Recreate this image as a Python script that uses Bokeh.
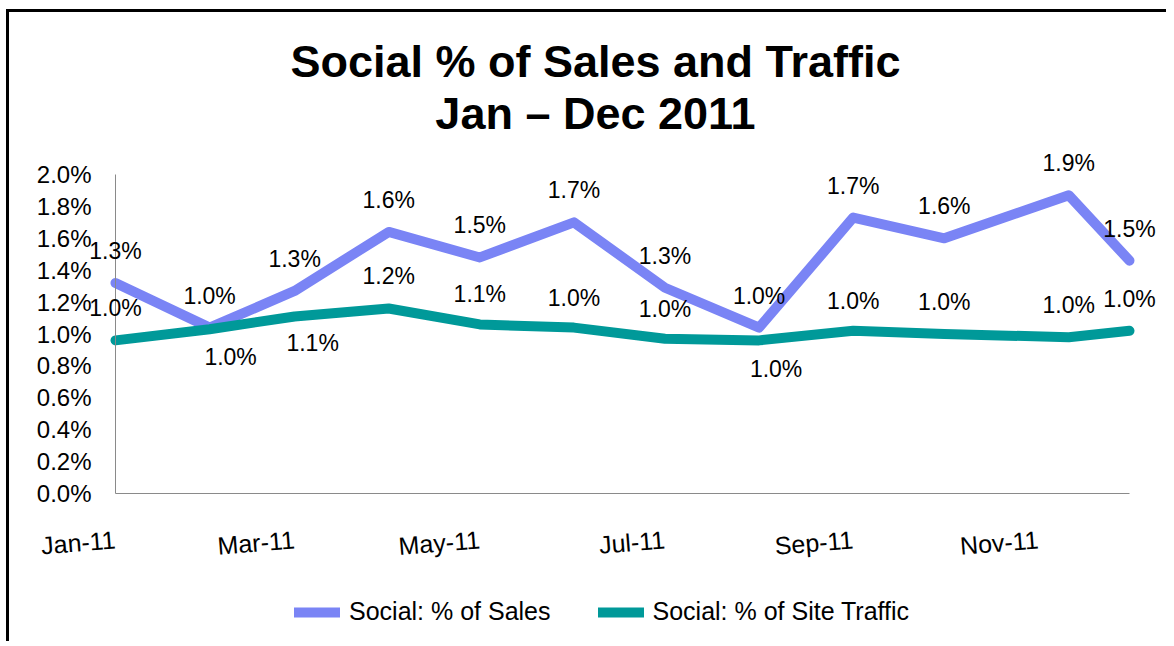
import pandas as pd
from bokeh.plotting import figure
from bokeh.core.properties import value
from bokeh.models import (ColumnDataSource, LabelSet, Label, Legend, LegendItem, FixedTicker,
                          DatetimeTickFormatter, Range1d, PrintfTickFormatter)
from bokeh.embed import file_html
from bokeh.resources import INLINE

# ---------------- data ----------------
dates = ["2011-01-01", "2011-02-01", "2011-03-01", "2011-04-01", "2011-05-01", "2011-06-01",
         "2011-07-01", "2011-08-01", "2011-09-01", "2011-10-01", "2011-11-11", "2011-12-01"]
sales_pct = [1.32, 1.04, 1.27, 1.64, 1.48, 1.70, 1.29, 1.04, 1.73, 1.60, 1.87, 1.46]
traffic_pct = [0.96, 1.03, 1.11, 1.16, 1.06, 1.04, 0.97, 0.96, 1.02, 1.00, 0.98, 1.02]
y_ticks = [0.0, 0.2, 0.4, 0.6, 0.8, 1.0, 1.2, 1.4, 1.6, 1.8, 2.0]
x_tick_dates = ["2011-01-01", "2011-03-01", "2011-05-01", "2011-07-01", "2011-09-01", "2011-11-01"]
series_names = ["Social: % of Sales", "Social: % of Site Traffic"]
title_lines = ["Social % of Sales and Traffic", "Jan \u2013 Dec 2011"]

# ---------------- styles / layout ----------------
traffic_label_dx = [0, 21, 18, 0, 0, 0, 0, 17, 0, 0, 0, 0]
traffic_label_dy = [32, -28, -27, 32, 30, 30, 30, -29, 30, 32, 32, 32]
SALES_COLOR = "#7A84F5"
TRAFFIC_COLOR = "#009999"
AXIS_COLOR = "#8A8A8A"
FONT = "Liberation Sans"
W, H = 1160, 632
PX_LEFT, PX_RIGHT = 106, 1120     # canvas px of first / last date
PX_TOP, PX_BOTTOM = 162, 481      # canvas px of top / bottom of value axis

x = pd.to_datetime(dates)
t0 = x[0].value / 1e6
t1 = x[-1].value / 1e6
ppm = (PX_RIGHT - PX_LEFT) / (t1 - t0)
ppu = (PX_BOTTOM - PX_TOP) / (y_ticks[-1] - y_ticks[0])
x_range = Range1d(t0 - PX_LEFT / ppm, t1 + (W - PX_RIGHT) / ppm)
y_range = Range1d(y_ticks[0] - (H - PX_BOTTOM) / ppu, y_ticks[-1] + PX_TOP / ppu)

src = ColumnDataSource(dict(
    date=x,
    sales=sales_pct,
    traffic=traffic_pct,
    sales_lbl=["%.1f%%" % v for v in sales_pct],
    traffic_lbl=["%.1f%%" % v for v in traffic_pct],
    tdx=traffic_label_dx,
    tdy=traffic_label_dy,
))

p = figure(width=W, height=H, x_axis_type="datetime", x_range=x_range, y_range=y_range,
           title=None, output_backend="svg", toolbar_location=None,
           min_border_left=0, min_border_right=0, min_border_top=0, min_border_bottom=0,
           styles={"margin-left": "6px", "margin-top": "9px",
                   "border-left": "3px solid black", "border-top": "3px solid black"})
p.outline_line_color = None
p.xgrid.visible = False
p.ygrid.visible = False
p.background_fill_color = "white"
p.border_fill_color = "white"

# titles
p.add_layout(Label(x=586, y=H - 49, x_units="screen", y_units="screen", text=title_lines[0],
                   text_align="center", text_baseline="middle", text_font=FONT,
                   text_font_size="45px", text_font_style="bold", text_color="black"))
p.add_layout(Label(x=586, y=H - 101, x_units="screen", y_units="screen", text=title_lines[1],
                   text_align="center", text_baseline="middle", text_font=FONT,
                   text_font_size="45px", text_font_style="bold", text_color="black"))

r1 = p.line("date", "sales", source=src, line_color=SALES_COLOR, line_width=10,
            line_join="round", line_cap="round")
r2 = p.line("date", "traffic", source=src, line_color=TRAFFIC_COLOR, line_width=10,
            line_join="round", line_cap="round")

# axes at fixed locations
ms = [pd.Timestamp(d).value // 10**6 for d in x_tick_dates]
p.xaxis.ticker = FixedTicker(ticks=ms)
fmt = "%b-%y"
p.xaxis.formatter = DatetimeTickFormatter(milliseconds=fmt, seconds=fmt, minsec=fmt, minutes=fmt,
                                          hourmin=fmt, hours=fmt, days=fmt, months=fmt, years=fmt)
p.xaxis.fixed_location = y_ticks[0]
p.xaxis.bounds = (t0, t1)
p.xaxis.major_label_orientation = 0.08
p.xaxis.major_label_standoff = 46
p.yaxis.ticker = FixedTicker(ticks=y_ticks)
p.yaxis.formatter = PrintfTickFormatter(format="%.1f%%")
p.yaxis.fixed_location = t0
p.yaxis.bounds = (y_ticks[0], y_ticks[-1])
p.yaxis.major_label_standoff = 24
for ax in (p.xaxis, p.yaxis):
    ax.axis_line_color = AXIS_COLOR
    ax.axis_line_width = 1
    ax.major_tick_line_color = None
    ax.minor_tick_line_color = None
    ax.major_tick_out = 0
    ax.major_tick_in = 0
    ax.major_label_text_font = FONT
    ax.major_label_text_color = "black"
p.xaxis.major_label_text_font_size = "25px"
p.yaxis.major_label_text_font_size = "24px"

# data labels
p.add_layout(LabelSet(x="date", y="sales", text="sales_lbl", source=src, y_offset=32,
                      text_align="center", text_baseline="middle", text_font=value(FONT),
                      text_font_size="23px", text_color="black"))
p.add_layout(LabelSet(x="date", y="traffic", text="traffic_lbl", source=src,
                      x_offset="tdx", y_offset="tdy",
                      text_align="center", text_baseline="middle", text_font=value(FONT),
                      text_font_size="23px", text_color="black"))

# legend
legend = Legend(items=[LegendItem(label=series_names[0], renderers=[r1]),
                       LegendItem(label=series_names[1], renderers=[r2])],
                orientation="horizontal", location=(285, H - 614),
                border_line_color=None, background_fill_alpha=0,
                glyph_width=46, glyph_height=24, label_standoff=9, spacing=47,
                padding=0, margin=0, label_text_font=FONT, label_text_font_size="25px",
                label_text_color="black", label_height=24)
p.add_layout(legend)

open("out.html", "w").write(file_html(p, INLINE))
